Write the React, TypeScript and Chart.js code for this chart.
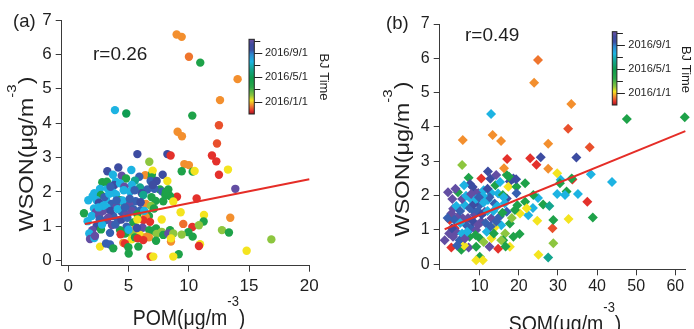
import React, { useEffect, useRef } from "react";
import { Chart, registerables } from "chart.js";

Chart.register(...registerables);

// ---------------- data ----------------
// Panel (a): POM vs WSON, colour = BJ time (months after 2016/1/1)
const pomA = [
  8.99, 9.41, 10.01, 10.95, 14.05, 12.59, 3.87, 4.81, 10.29, 12.5,
  9.07, 9.43, 12.34, 5.73, 8.22, 8.49, 11.92, 12.28, 6.72, 9.63,
  10.01, 13.25, 9.41, 10.32, 10.48, 12.5, 13.86, 9.02, 10.65, 9.32,
  11.26, 13.44, 9.54, 11.23, 10.29, 10.84, 12.75, 13.33, 9.96, 10.32,
  9.41, 10.93, 10.84, 14.8, 16.85, 9.16, 8.71, 6.83, 7.05, 5.01,
  4.15, 3.24, 5.23, 6.39, 6.94, 7.0, 4.43, 5.89, 7.83, 6.92,
  3.93, 4.79, 5.53, 6.83, 7.33, 8.22, 2.82, 5.26, 3.82, 4.29,
  2.63, 3.26, 4.65, 5.95, 7.61, 8.3, 6.56, 7.14, 2.16, 3.73,
  5.12, 6.09, 7.8, 2.02, 2.71, 3.96, 6.22, 8.44, 8.05, 1.66,
  2.35, 3.13, 4.29, 5.59, 7.25, 7.88, 8.71, 2.54, 3.6, 4.65,
  6.45, 6.86, 5.06, 2.13, 3.18, 4.01, 5.39, 6.0, 7.11, 1.3,
  2.3, 2.9, 4.43, 5.26, 1.94, 2.57, 3.73, 4.84, 5.73, 6.69,
  6.42, 1.6, 3.13, 4.15, 6.22, 5.39, 5.73, 6.78, 2.35, 3.62,
  4.84, 6.17, 7.28, 7.75, 1.99, 2.71, 4.29, 5.53, 6.72, 7.05,
  8.44, 7.75, 1.74, 3.46, 5.26, 4.7, 5.95, 6.5, 7.33, 7.88,
  8.3, 8.71, 1.8, 2.16, 2.21, 5.26, 5.53, 6.69, 5.75, 2.63,
  3.13, 3.46, 3.73, 4.56, 4.7, 4.98, 5.81, 7.28, 6.22, 8.52,
  8.52, 4.34, 3.0, 3.4, 2.9, 3.5, 4.1, 4.5, 4.0, 3.3,
  2.6, 3.9, 4.4, 4.7, 2.8, 5.1, 4.6, 5.5, 6.0, 6.3,
  5.0, 4.9, 5.7, 3.2, 2.5, 3.7, 3.5, 7.0, 6.9, 8.1,
];
const wsonA = [
  6.58, 6.51, 5.93, 5.76, 5.28, 4.67, 4.38, 4.28, 4.22, 3.94,
  3.75, 3.62, 3.41, 3.1, 3.1, 3.06, 3.06, 2.89, 2.88, 2.81,
  2.78, 2.65, 2.6, 2.59, 2.61, 2.5, 2.09, 1.86, 1.81, 1.41,
  1.33, 1.25, 1.07, 1.14, 0.98, 1.03, 0.89, 0.82, 0.83, 0.7,
  0.76, 0.48, 0.43, 0.29, 0.62, 0.19, 0.12, 0.12, 0.12, 0.21,
  2.71, 2.6, 2.64, 2.49, 2.52, 2.62, 2.47, 2.44, 2.5, 2.42,
  2.3, 2.39, 2.33, 2.32, 2.32, 2.32, 2.28, 2.2, 2.2, 2.25,
  2.09, 2.1, 2.15, 2.13, 2.07, 2.07, 2.07, 2.09, 1.96, 1.98,
  2.01, 1.96, 2.01, 1.88, 1.91, 1.93, 1.91, 1.88, 1.91, 1.76,
  1.76, 1.78, 1.76, 1.73, 1.74, 1.73, 1.72, 1.69, 1.65, 1.67,
  1.65, 1.59, 1.62, 1.52, 1.55, 1.57, 1.5, 1.47, 1.52, 1.38,
  1.42, 1.45, 1.42, 1.45, 1.3, 1.3, 1.3, 1.33, 1.35, 1.3,
  1.28, 1.15, 1.18, 1.18, 1.18, 1.11, 1.2, 1.13, 1.01, 1.04,
  0.99, 0.96, 0.94, 1.2, 0.89, 0.91, 0.89, 0.91, 0.89, 0.87,
  0.89, 0.84, 0.79, 0.81, 0.77, 0.79, 0.75, 0.7, 0.78, 0.75,
  0.79, 0.79, 0.63, 0.66, 0.72, 0.62, 0.68, 0.68, 0.65, 0.41,
  0.5, 0.47, 0.36, 0.52, 0.5, 0.39, 0.41, 0.58, 0.6, 0.56,
  0.65, 0.77, 1.85, 1.95, 1.6, 1.45, 1.5, 1.75, 1.75, 1.25,
  1.2, 1.05, 1.2, 1.55, 1.05, 1.8, 2.05, 2.05, 1.7, 1.45,
  0.9, 1.25, 0.95, 2.3, 1.55, 2.5, 2.15, 2.2, 1.85, 2.0,
];
const monthA = [
  -0.6, -0.6, -0.85, 3.0, -0.6, -0.6, 6.6, 4.0, 3.0, -1.2,
  -0.6, -0.6, -1.2, 9.0, 9.0, -1.5, -1.5, -1.5, 1.0, -0.6,
  -0.6, 0.2, 3.0, 3.0, 0.2, -1.5, 10.1, -1.5, -1.5, 0.2,
  0.2, -0.6, -0.9, 3.0, -1.5, 1.0, 1.0, 3.0, 3.0, 3.0,
  1.0, 0.2, -1.5, 0.2, 1.0, 3.0, 0.2, -1.5, 0.2, 3.0,
  9.0, 9.0, 6.6, -0.6, 3.0, 0.2, 10.1, 8.3, 9.0, 3.0,
  6.6, 3.0, 5.3, 8.3, 9.0, 0.2, 3.0, 6.6, 9.0, 6.6,
  6.6, 6.6, 10.1, 5.3, 3.0, 3.0, 8.3, 8.3, 6.6, 6.6,
  6.6, 9.0, 8.3, 6.6, 3.0, 6.6, 5.3, 3.0, 3.0, 6.6,
  6.6, 6.6, 3.0, 8.3, 3.0, 3.0, 0.2, 9.0, 8.3, 5.3,
  -0.6, 1.0, 10.1, 6.6, 6.6, 10.1, 8.3, 8.3, 3.0, 3.0,
  10.1, 10.1, 8.3, 10.1, 6.6, 10.1, 8.3, 10.1, 3.0, 3.0,
  -0.6, 6.6, 8.3, 8.3, -1.5, 3.0, 0.2, -1.5, 9.0, 10.1,
  8.3, 10.1, 3.0, 0.2, 10.1, 3.0, 3.0, -0.6, 3.0, 3.0,
  3.0, 1.0, 6.6, 8.3, 1.0, 3.0, 0.2, -0.6, 1.0, 3.0,
  10.1, 1.0, 10.1, 6.6, 10.1, 0.2, 3.0, -0.6, -1.5, 0.2,
  8.3, 8.3, 3.0, -0.6, -1.5, 3.0, 3.0, 3.0, -1.5, -0.6,
  0.2, -1.5, 8.3, 6.6, 6.6, 9.0, 6.6, 6.6, 8.3, 10.1,
  8.3, 8.3, 9.0, 8.3, 6.6, 8.3, 6.6, 8.3, 9.0, 6.6,
  6.6, 8.3, 9.0, 3.0, 6.6, 6.6, 8.3, 9.0, 3.0, 3.0,
];

// Panel (b): SOM vs WSON
const somB = [
  24.9, 23.9, 33.4, 12.9, 47.6, 62.4, 32.6, 13.3, 5.67, 15.45,
  27.5, 38.1, 25.6, 34.7, 22.9, 17.0, 24.5, 5.5, 27.5, 29.8,
  38.4, 43.8, 33.7, 33.5, 30.7, 30.5, 32.2, 29.8, 31.8, 35.1,
  37.5, 38.9, 32.7, 28.6, 24.7, 28.8, 28.8, 27.5, 25.0, 24.9,
  23.6, 26.2, 27.8, 21.6, 22.4, 21.6, 23.7, 22.0, 20.3, 19.0,
  16.9, 17.7, 16.5, 18.6, 16.0, 17.7, 16.9, 18.6, 17.7, 17.3,
  19.4, 16.9, 19.4, 16.2, 19.6, 7.17, 7.51, 10.4, 12.1, 14.2,
  1.89, 4.45, 8.7, 9.6, 11.0, 13.0, 14.7, 15.9, 2.74, 7.85,
  6.15, 7.43, 10.0, 12.1, 13.8, 16.4, 4.45, 5.7, 8.7, 11.3,
  13.0, 10.4, 15.1, 15.5, 13.8, 2.3, 3.6, 6.6, 7.85, 9.1,
  1.04, 3.17, 4.87, 7.4, 10.0, 13.0, 15.5, 2.74, 5.3, 7.17,
  9.1, 12.5, 14.7, 10.0, 9.1, 10.8, 16.6, 3.2, 6.0, 8.2,
  12.7, 17.5, 19.3, 16.1, 4.0, 5.0, 5.5, 6.5, 7.0, 8.0,
  8.5, 9.0, 9.5, 10.5, 11.0, 11.5, 12.0, 12.5, 13.5, 14.2,
  14.5, 3.5, 4.0, 5.5, 6.2, 8.3, 9.6, 11.8, 12.8, 3.0,
  2.2, 6.0, 10.8, 14.0, 15.2, 12.0, 7.8, 5.0, 1.8, 2.9,
  4.2, 8.9, 11.0, 13.6, 15.8, 6.8, 9.8, 3.8, 20.2, 18.2,
];
const wsonB = [
  5.95, 5.29, 4.67, 4.38, 4.23, 4.28, 3.95, 3.77, 3.62, 3.59,
  3.51, 3.41, 3.12, 3.11, 3.09, 3.07, 2.9, 2.89, 2.78, 2.65,
  2.62, 2.4, 2.47, 2.5, 2.46, 2.36, 2.12, 2.05, 2.02, 2.05,
  1.82, 1.36, 1.32, 1.05, 1.27, 1.29, 0.61, 0.2, 0.28, 1.93,
  1.64, 1.74, 1.7, 1.82, 1.43, 2.36, 2.02, 1.63, 1.48, 1.58,
  1.53, 1.19, 0.9, 0.8, 0.7, 0.51, 2.6, 2.5, 2.41, 2.26,
  2.26, 1.92, 2.07, 2.8, 1.72, 2.52, 2.34, 2.5, 2.7, 2.6,
  2.1, 2.1, 2.11, 2.08, 2.16, 2.08, 2.06, 2.02, 1.48, 1.89,
  1.73, 1.63, 1.73, 1.87, 1.77, 1.78, 1.39, 1.34, 1.44, 1.53,
  1.34, 1.24, 1.39, 1.14, 1.07, 1.29, 1.05, 1.14, 1.05, 1.0,
  0.7, 0.8, 0.7, 0.8, 0.76, 0.76, 0.7, 0.49, 0.42, 0.49,
  0.51, 0.51, 0.45, 0.22, 0.12, 0.12, 0.52, 1.62, 0.55, 2.25,
  2.49, 2.55, 2.48, 1.95, 1.7, 1.55, 1.9, 2.0, 1.35, 1.6,
  1.75, 1.9, 1.55, 1.45, 1.8, 1.2, 1.55, 1.95, 1.55, 1.25,
  1.7, 1.3, 0.95, 0.9, 0.75, 1.25, 1.15, 0.95, 1.1, 1.9,
  0.9, 2.3, 2.0, 2.3, 2.4, 2.2, 2.05, 1.2, 1.35, 1.05,
  0.55, 0.85, 0.65, 0.9, 1.5, 0.95, 1.95, 2.2, 0.88, 1.35,
];
const monthB = [
  -0.85, -0.6, -0.6, 6.6, 3.0, 3.0, -1.2, -0.6, -0.6, -0.6,
  -0.6, -1.2, 9.0, 9.0, -1.5, -1.5, -1.5, 1.0, -0.6, 0.2,
  6.6, 6.6, -1.5, 3.0, 6.6, 3.0, 3.0, 6.6, 6.6, 6.6,
  -1.5, 3.0, 0.2, -1.2, 0.2, 3.0, 1.0, 5.3, 0.2, 6.6,
  6.6, 3.0, 5.3, 3.0, 6.6, 3.0, 3.0, 0.2, 0.2, 3.0,
  8.3, 3.0, 1.0, 3.0, 3.0, 0.2, 3.0, 9.0, 9.0, 0.2,
  3.0, 9.0, 8.3, -0.6, 3.0, 3.0, 9.0, -1.5, 9.0, 10.1,
  10.1, 3.0, 10.1, 10.1, 6.6, 6.6, 6.6, 3.0, 10.1, 6.6,
  6.6, 8.3, 8.3, 6.6, 8.3, 6.6, 10.1, 10.1, 10.1, 10.1,
  10.1, 10.1, 8.3, 6.6, 0.2, -1.5, -1.5, 8.3, 8.3, 10.1,
  10.1, 10.1, 8.3, 3.0, 3.0, 0.2, 1.0, -1.5, 3.0, 10.1,
  3.0, 10.1, -1.5, 3.0, 0.2, 0.2, 3.0, 10.1, 0.2, 9.0,
  9.0, 3.0, 9.0, 6.6, 6.6, 8.3, 10.1, 6.6, 10.1, 8.3,
  9.0, 6.6, 8.3, 9.0, 6.6, 8.3, 6.6, 8.3, 6.6, 8.3,
  6.6, 8.3, 10.1, 6.6, 10.1, 9.0, 10.1, 6.6, 8.3, 10.1,
  10.1, 6.6, 6.6, 3.0, 6.6, 9.0, 10.1, 6.6, 8.3, 9.0,
  8.3, 3.0, 1.0, 3.0, 3.0, 6.6, 8.3, 10.1, 3.0, 1.0,
];

// regression lines (end points)
const fitAX = [1.38, 20];
const fitAY = [1.07, 2.37];
const fitBX = [1.04, 62.55];
const fitBY = [1.02, 3.88];

// axis ticks
const xTicksA = [0, 5, 10, 15, 20];
const xTicksB = [10, 20, 30, 40, 50, 60];
const yTicks = [0, 1, 2, 3, 4, 5, 6, 7];

// colour bar (BJ Time), months after 2016/1/1
const timeRange = [-2.05, 10.25];
const timeTickMonths = [0, 4, 8];
const timeTickLabels = ["2016/1/1", "2016/5/1", "2016/9/1"];
const timeMinorMonths = [2, 6, 10];

// ---------------- styling ----------------
const FONT = '"Liberation Sans", Arial, Helvetica, sans-serif';
const TEXT = "#1f1f1f";
const AXIS = "#3a3a3a";
const FIT = "#e52d27";
const W = 347;
const H = 329;

const CMAP: [number, string][] = [
  [0.0, "#a3181f"],
  [0.045, "#e4312b"],
  [0.118, "#f38f2e"],
  [0.183, "#f4e41f"],
  [0.248, "#8dc63f"],
  [0.36, "#2aa748"],
  [0.48, "#0d9b4b"],
  [0.6, "#13a58f"],
  [0.7, "#1cb5e3"],
  [0.8, "#2f86cf"],
  [0.86, "#3a4fa3"],
  [0.93, "#3f4a9f"],
  [1.0, "#6a4fa4"],
];

function hexRgb(h: string) {
  return [parseInt(h.slice(1, 3), 16), parseInt(h.slice(3, 5), 16), parseInt(h.slice(5, 7), 16)];
}
function cmap(f: number) {
  const v = Math.max(0, Math.min(1, f));
  for (let i = 1; i < CMAP.length; i++) {
    if (v <= CMAP[i][0]) {
      const [f0, c0] = CMAP[i - 1];
      const [f1, c1] = CMAP[i];
      const t = (v - f0) / (f1 - f0);
      const a = hexRgb(c0);
      const b = hexRgb(c1);
      const c = a.map((x, k) => Math.round(x + (b[k] - x) * t));
      return `rgb(${c[0]},${c[1]},${c[2]})`;
    }
  }
  return CMAP[CMAP.length - 1][1];
}
const monthColor = (m: number) => cmap((m - timeRange[0]) / (timeRange[1] - timeRange[0]));

type Panel = {
  xs: number[]; ys: number[]; ms: number[]; fitX: number[]; fitY: number[];
  xMin: number; xMax: number; yMin: number; yMax: number; xTicks: number[];
  area: { left: number; right: number; top: number; bottom: number };
  pointStyle: string; radius: number; tickSize: number; xTickPad: number;
  label: string; labelPos: [number, number]; rText: string; rPos: [number, number];
  xTitle: [string, string, string]; xTitlePos: [number, number];
  yTitle: [string, string, string]; yTitlePos: [number, number];
  cb: { x: number; w: number; top: number; bottom: number; labelX: number };
  bjPos: [number, number];
};

const panelA: Panel = {
  xs: pomA, ys: wsonA, ms: monthA, fitX: fitAX, fitY: fitAY,
  xMin: -0.55, xMax: 20, yMin: -0.145, yMax: 7, xTicks: xTicksA,
  area: { left: 61.7, right: 309.3, top: 20, bottom: 265.7 },
  pointStyle: "circle", radius: 4.2, tickSize: 17, xTickPad: 4,
  label: "(a)", labelPos: [13, 26.5], rText: "r=0.26", rPos: [93, 60],
  xTitle: ["POM(μg/m", "-3", ")"], xTitlePos: [189, 325],
  yTitle: ["WSON(μg/m", "-3", ")"], yTitlePos: [33, 154],
  cb: { x: 249, w: 5.3, top: 39.3, bottom: 114, labelX: 265 },
  bjPos: [320, 77],
};

const panelB: Panel = {
  xs: somB, ys: wsonB, ms: monthB, fitX: fitBX, fitY: fitBY,
  xMin: -0.23, xMax: 62.54, yMin: -0.146, yMax: 7, xTicks: xTicksB,
  area: { left: 92.7, right: 338.3, top: 24, bottom: 269.3 },
  pointStyle: "rectRot", radius: 5, tickSize: 16, xTickPad: 2,
  label: "(b)", labelPos: [39, 28.5], rText: "r=0.49", rPos: [118, 40.5],
  xTitle: ["SOM(μg/m", "-3", ")"], xTitlePos: [218, 331],
  yTitle: ["WSON(μg/m", "-3", ")"], yTitlePos: [61.7, 159],
  cb: { x: 265.3, w: 4.6, top: 31.7, bottom: 105, labelX: 281.3 },
  bjPos: [334.5, 69.5],
};

function drawSup(ctx: CanvasRenderingContext2D, parts: [string, string, string], size: number, supSize: number, raise: number) {
  const [main, sup, tail] = parts;
  ctx.font = `${size}px ${FONT}`;
  const w1 = ctx.measureText(main).width;
  const w3 = ctx.measureText(tail).width;
  ctx.font = `${supSize}px ${FONT}`;
  const w2 = ctx.measureText(sup).width;
  const x0 = -(w1 + w2 + w3) / 2;
  ctx.textAlign = "left";
  ctx.textBaseline = "alphabetic";
  ctx.font = `${size}px ${FONT}`;
  ctx.fillText(main, x0, 0);
  ctx.font = `${supSize}px ${FONT}`;
  ctx.fillText(sup, x0 + w1, -raise);
  ctx.font = `${size}px ${FONT}`;
  ctx.fillText(tail, x0 + w1 + w2, 0);
}

function decor(p: Panel) {
  return {
    id: "decor",
    afterDraw(chart: any) {
      const ctx: CanvasRenderingContext2D = chart.ctx;
      ctx.save();
      // colour bar
      const { x, w, top, bottom, labelX } = p.cb;
      const g = ctx.createLinearGradient(0, bottom, 0, top);
      CMAP.forEach(([f, c]) => g.addColorStop(f, c));
      ctx.fillStyle = g;
      ctx.fillRect(x, top, w, bottom - top);
      ctx.strokeStyle = "#222";
      ctx.lineWidth = 1;
      ctx.strokeRect(x, top, w, bottom - top);
      const my = (m: number) => bottom - ((m - timeRange[0]) / (timeRange[1] - timeRange[0])) * (bottom - top);
      ctx.beginPath();
      timeMinorMonths.forEach((m) => {
        const yy = Math.round(my(m)) + 0.5;
        ctx.moveTo(x + w, yy);
        ctx.lineTo(x + w + 6, yy);
      });
      timeTickMonths.forEach((m) => {
        const yy = Math.round(my(m)) + 0.5;
        ctx.moveTo(x + w, yy);
        ctx.lineTo(x + w + 8, yy);
      });
      ctx.stroke();
      ctx.fillStyle = TEXT;
      ctx.font = `11px ${FONT}`;
      ctx.textAlign = "left";
      ctx.textBaseline = "middle";
      timeTickMonths.forEach((m, i) => ctx.fillText(timeTickLabels[i], labelX, my(m)));
      // BJ Time
      ctx.save();
      ctx.translate(p.bjPos[0], p.bjPos[1]);
      ctx.rotate(Math.PI / 2);
      ctx.font = `13px ${FONT}`;
      ctx.textAlign = "center";
      ctx.textBaseline = "alphabetic";
      ctx.fillText("BJ Time", 0, 0);
      ctx.restore();
      // panel label and r
      ctx.textAlign = "left";
      ctx.textBaseline = "alphabetic";
      ctx.font = `18.5px ${FONT}`;
      ctx.fillText(p.label, p.labelPos[0], p.labelPos[1]);
      ctx.font = `19px ${FONT}`;
      ctx.fillText(p.rText, p.rPos[0], p.rPos[1]);
      // x title
      ctx.save();
      ctx.translate(p.xTitlePos[0], p.xTitlePos[1]);
      ctx.scale(1, 1.12);
      drawSup(ctx, p.xTitle, 19.5, 13, 17);
      ctx.restore();
      // y title
      ctx.save();
      ctx.translate(p.yTitlePos[0], p.yTitlePos[1]);
      ctx.scale(1, 1.12);
      ctx.rotate(-Math.PI / 2);
      drawSup(ctx, p.yTitle, 21, 13.5, 17);
      ctx.restore();
      ctx.restore();
    },
  };
}

function buildChart(canvas: HTMLCanvasElement, p: Panel) {
  const colors = p.ms.map(monthColor);
  const grid = {
    display: true,
    drawOnChartArea: false,
    drawTicks: true,
    tickLength: 6,
    color: AXIS,
    tickColor: AXIS,
    lineWidth: 1,
  };
  return new Chart(canvas, {
    type: "scatter",
    data: {
      datasets: [
        {
          type: "line",
          data: p.fitX.map((x, i) => ({ x, y: p.fitY[i] })),
          borderColor: FIT,
          borderWidth: 2,
          pointRadius: 0,
          fill: false,
          tension: 0,
          order: 0,
          clip: false,
        } as any,
        {
          type: "scatter",
          data: p.xs.map((x, i) => ({ x, y: p.ys[i] })),
          pointStyle: p.pointStyle,
          pointRadius: p.radius,
          backgroundColor: colors,
          pointBackgroundColor: colors,
          borderWidth: 0,
          pointBorderWidth: 0,
          order: 1,
          clip: false,
        } as any,
      ],
    },
    options: {
      animation: false,
      responsive: false,
      maintainAspectRatio: false,
      events: [],
      layout: { padding: { left: 0, top: p.area.top, right: W - p.area.right, bottom: 0 } },
      plugins: { legend: { display: false }, tooltip: { enabled: false }, title: { display: false } },
      scales: {
        x: {
          type: "linear",
          position: "bottom",
          min: p.xMin,
          max: p.xMax,
          afterBuildTicks: (s: any) => {
            s.ticks = p.xTicks.map((v) => ({ value: v }));
          },
          afterFit: (s: any) => {
            s.height = H - p.area.bottom;
          },
          ticks: { font: { family: FONT, size: p.tickSize }, color: TEXT, padding: p.xTickPad, maxRotation: 0, autoSkip: false },
          grid,
          border: { display: true, color: AXIS, width: 1 },
        },
        y: {
          type: "linear",
          position: "left",
          min: p.yMin,
          max: p.yMax,
          afterBuildTicks: (s: any) => {
            s.ticks = yTicks.map((v) => ({ value: v }));
          },
          afterFit: (s: any) => {
            s.width = p.area.left;
          },
          ticks: { font: { family: FONT, size: p.tickSize }, color: TEXT, padding: 4, autoSkip: false },
          grid,
          border: { display: true, color: AXIS, width: 1 },
        },
      },
    } as any,
    plugins: [decor(p)],
  });
}

export default function App() {
  const refA = useRef<HTMLCanvasElement>(null);
  const refB = useRef<HTMLCanvasElement>(null);
  useEffect(() => {
    const charts = [buildChart(refA.current!, panelA), buildChart(refB.current!, panelB)];
    return () => charts.forEach((c) => c.destroy());
  }, []);
  return (
    <div style={{ position: "absolute", left: 0, top: 0, width: 694, height: 329, background: "#fff", overflow: "hidden" }}>
      <canvas ref={refA} width={W} height={H} style={{ position: "absolute", left: 0, top: 0, width: W, height: H, display: "block" }} />
      <canvas ref={refB} width={W} height={H} style={{ position: "absolute", left: W, top: 0, width: W, height: H, display: "block" }} />
    </div>
  );
}
